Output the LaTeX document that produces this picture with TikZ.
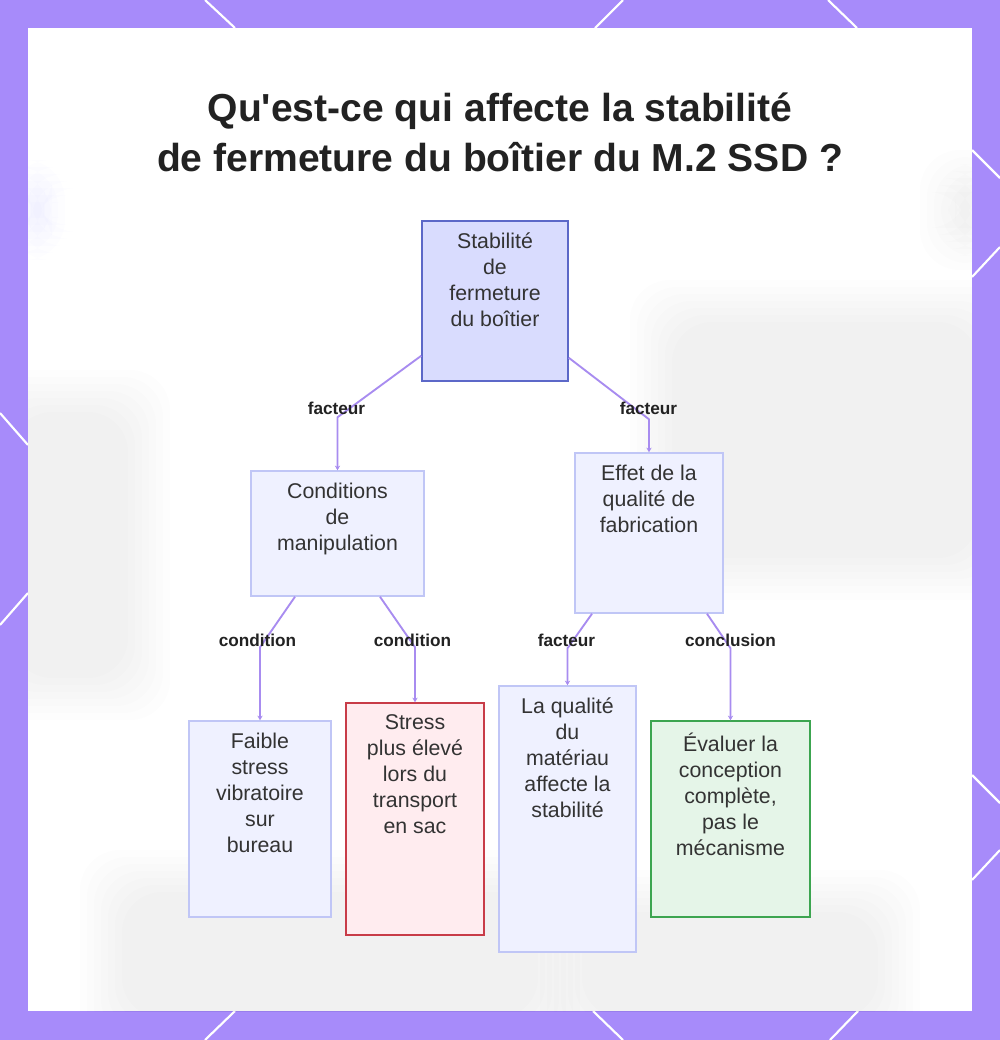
\documentclass[tikz,border=0pt]{standalone}
\usepackage{fontspec}
\setmainfont{Liberation Sans}
\usetikzlibrary{arrows.meta,calc}
\definecolor{bord}{RGB}{167,139,250}
\definecolor{edgec}{RGB}{168,140,240}
\definecolor{rootfill}{RGB}{217,220,254}
\definecolor{rootdraw}{RGB}{92,104,200}
\definecolor{lightfill}{RGB}{239,241,255}
\definecolor{lightdraw}{RGB}{192,198,246}
\definecolor{redfill}{RGB}{255,236,239}
\definecolor{reddraw}{RGB}{200,60,72}
\definecolor{greenfill}{RGB}{229,245,232}
\definecolor{greendraw}{RGB}{60,165,80}
\definecolor{txtc}{RGB}{51,51,51}
\definecolor{titlec}{RGB}{34,34,34}
\newcommand\softblob[5]{%
  \foreach \k in {0,...,6}{%
    \fill[#5, opacity=0.008, rounded corners=30] ({#1+\k*7},{#2+\k*7}) rectangle ({#3-\k*7},{#4-\k*7});}}
\tikzset{
  box/.style={rectangle, draw, line width=1.1pt, inner sep=0pt},
  rootbox/.style={box, fill=rootfill, draw=rootdraw},
  lightbox/.style={box, fill=lightfill, draw=lightdraw},
  redbox/.style={box, fill=redfill, draw=reddraw},
  greenbox/.style={box, fill=greenfill, draw=greendraw},
  txt/.style={anchor=north, align=center, inner sep=0pt, text=txtc, font=\fontsize{16}{19.5}\selectfont},
  elabel/.style={inner sep=0pt, text=titlec, font=\bfseries\fontsize{12.9}{15}\selectfont},
  edge/.style={draw=edgec, line width=1.4pt, line join=round, -{Stealth[length=3.5pt,width=4pt]}},
  deco/.style={draw=white, line width=1.6pt},
}
\begin{document}
\begin{tikzpicture}[x=0.75pt,y=-0.75pt]
\useasboundingbox (0,0) rectangle (1000,1040);
\fill[bord] (0,0) rectangle (1000,1040);
% border decorations
\draw[deco] (205,0) -- (235,28);
\draw[deco] (623,0) -- (595,28);
\draw[deco] (828,0) -- (857,28);
\draw[deco] (235,1011) -- (205,1040);
\draw[deco] (593,1011) -- (623,1040);
\draw[deco] (858,1011) -- (830,1040);
\draw[deco] (0,413) -- (28,445);
\draw[deco] (28,593) -- (0,625);
\draw[deco] (972,150) -- (1000,178);
\draw[deco] (972,277) -- (1000,247);
\draw[deco] (972,775) -- (1000,803);
\draw[deco] (972,880) -- (1000,850);
% panel
\fill[white] (28,28) rectangle (972,1011);
\begin{scope}
  \clip (28,28) rectangle (972,1011);
  \softblob{630}{280}{1020}{600}{black}
  \softblob{-30}{370}{170}{720}{black}
  \softblob{80}{850}{580}{1060}{black}
  \softblob{540}{870}{920}{1060}{black}
  \softblob{920}{150}{1010}{270}{black}
  \softblob{10}{160}{65}{260}{blue}
\end{scope}
% title
\node[align=center, text=titlec, font=\bfseries\fontsize{29.3}{37.5}\selectfont] (title) at (500,132)
  {Qu\textquotesingle est-ce qui affecte la stabilité\\de fermeture du boîtier du M.2 SSD ?};
% boxes
\node[rootbox, minimum width=109.5pt, minimum height=120pt] (root) at (495,301) {};
\node[lightbox, minimum width=129.75pt, minimum height=93.75pt] (cond) at (337.5,533.5) {};
\node[lightbox, minimum width=111pt, minimum height=120pt] (eff) at (649,533) {};
\node[lightbox, minimum width=106.5pt, minimum height=147pt] (faible) at (260,819) {};
\node[redbox, minimum width=103.5pt, minimum height=174pt] (stress) at (415,819) {};
\node[lightbox, minimum width=102.75pt, minimum height=199.5pt] (qual) at (567.5,819) {};
\node[greenbox, minimum width=119.25pt, minimum height=147pt] (eval) at (730.5,819) {};
% texts
\node[txt] (rootT) at ($(root.north)+(0,12)$) {Stabilité\\de\\fermeture\\du boîtier};
\node[txt] (condT) at ($(cond.north)+(0,12)$) {Conditions\\de\\manipulation};
\node[txt] (effT) at ($(eff.north)+(0,12)$) {Effet de la\\qualité de\\fabrication};
\node[txt] (faibleT) at ($(faible.north)+(0,12)$) {Faible\\stress\\vibratoire\\sur\\bureau};
\node[txt] (stressT) at ($(stress.north)+(0,12)$) {Stress\\plus élevé\\lors du\\transport\\en sac};
\node[txt] (qualT) at ($(qual.north)+(0,12)$) {La qualité\\du\\matériau\\affecte la\\stabilité};
\node[txt] (evalT) at ($(eval.north)+(0,12)$) {Évaluer la\\conception\\complète,\\pas le\\mécanisme};
% edges
\draw[edge] ($(root.south west)+(0,-26)$) -- ($(cond.north)+(0,-53)$) -- (cond.north);
\draw[edge] ($(root.south east)+(0,-24)$) -- ($(eff.north)+(0,-33)$) -- (eff.north);
\draw[edge] ($(cond.south)+(-42.5,0)$) -- ($(faible.north)+(0,-73)$) -- (faible.north);
\draw[edge] ($(cond.south)+(42.5,0)$) -- ($(stress.north)+(0,-55)$) -- (stress.north);
\draw[edge] ($(eff.south)+(-57,0)$) -- ($(qual.north)+(0,-37)$) -- (qual.north);
\draw[edge] ($(eff.south)+(58,0)$) -- ($(eval.north)+(0,-72)$) -- (eval.north);
% edge labels
\node[elabel] (l1) at (336.5,408) {facteur};
\node[elabel] (l2) at (648.5,408) {facteur};
\node[elabel] (l3) at (257.5,640) {condition};
\node[elabel] (l4) at (412.5,640) {condition};
\node[elabel] (l5) at (566.5,640) {facteur};
\node[elabel] (l6) at (730.5,640) {conclusion};
\end{tikzpicture}
\end{document}
